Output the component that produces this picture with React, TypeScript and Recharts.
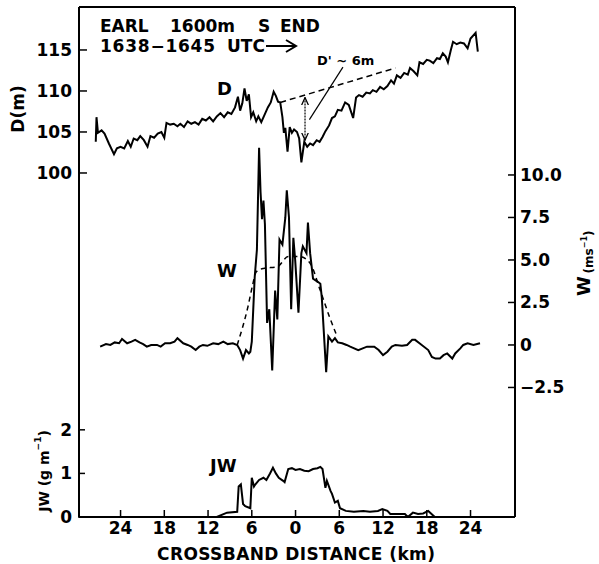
import React from "react"
import { ComposedChart, Line, XAxis, YAxis, ReferenceLine } from "recharts"

const FONT = "DejaVu Sans, Verdana, sans-serif"

// crossband distance (km), negative = left of band centre
const xTicks = [-24, -18, -12, -6, 0, 6, 12, 18, 24]
const dTicks = [100, 105, 110, 115]
const wTicks = [-2.5, 0, 2.5, 5, 7.5, 10]
const jwTicks = [0, 1, 2]

// D trace (m)
const dKm = [
	-27.4, -27.3, -27.1, -26.6, -26.2, -25.6, -24.9, -24.5, -24.0, -23.5, -23.0, -22.6, -22.2, -21.7,
	-21.3, -20.8, -20.3, -19.9, -19.4, -18.9, -18.4, -18.0, -17.7, -17.2, -16.7, -16.2, -15.8, -15.3,
	-14.8, -14.3, -13.8, -13.3, -12.8, -12.3, -11.8, -11.3, -10.8, -10.3, -9.8, -9.3, -8.8, -8.3, -7.9,
	-7.6, -7.3, -7.0, -6.7, -6.4, -6.1, -5.8, -5.4, -5.1, -4.7, -4.3, -3.8, -3.4, -3.0, -2.7, -2.4, -2.1,
	-1.8, -1.6, -1.4, -1.1, -0.8, -0.5, -0.2, 0.2, 0.5, 0.8, 1.2, 1.6, 2.0, 2.4, 2.9, 3.3, 3.7, 4.1, 4.6,
	5.0, 5.4, 5.8, 6.3, 6.8, 7.3, 7.9, 8.3, 8.7, 9.2, 9.7, 10.2, 10.6, 11.1, 11.6, 12.1, 12.6, 13.1, 13.5,
	13.9, 14.4, 14.9, 15.4, 15.7, 16.2, 16.7, 17.0, 17.5, 18.0, 18.4, 18.9, 19.4, 19.8, 20.2, 20.6, 20.9,
	21.3, 21.6, 22.1, 22.6, 23.1, 23.6, 24.0, 24.7, 25.0,
]
const dVal = [
	103.8, 106.8, 104.9, 105.2, 104.8, 103.6, 102.3, 103.0, 103.2, 103.0, 103.9, 103.2, 104.2, 104.0,
	104.5, 104.0, 103.2, 104.5, 104.3, 104.8, 105.0, 104.3, 106.1, 105.9, 106.0, 105.7, 106.0, 105.6,
	106.3, 106.0, 106.2, 105.9, 106.6, 106.4, 106.8, 106.3, 106.9, 107.3, 106.8, 107.4, 107.2, 108.0, 109.3,
	107.6, 108.5, 110.3, 108.8, 109.6, 106.8, 107.4, 106.3, 106.9, 106.2, 107.0, 108.0, 108.6, 109.9, 109.4,
	108.7, 108.6, 106.8, 104.9, 105.5, 102.6, 105.6, 104.9, 105.3, 105.0, 104.2, 101.3, 103.8, 103.2, 103.6,
	103.4, 104.0, 103.8, 104.4, 105.1, 105.8, 106.7, 106.9, 107.7, 107.6, 108.6, 108.3, 106.7, 109.2, 109.5,
	109.3, 109.8, 109.7, 110.1, 109.9, 110.5, 110.2, 110.6, 111.3, 110.9, 111.9, 111.6, 112.2, 112.0, 112.8,
	112.4, 111.9, 113.5, 113.3, 113.8, 113.7, 113.4, 114.0, 113.9, 114.6, 114.2, 113.5, 115.0, 116.0, 115.7,
	115.9, 115.8, 115.2, 116.4, 117.1, 114.8,
]

// W trace (m/s)
const wKm = [
	-26.8, -26.0, -25.4, -24.8, -24.2, -23.8, -23.1, -22.5, -22.0, -21.4, -20.9, -20.4, -19.8, -19.0,
	-18.5, -17.9, -17.2, -16.6, -16.2, -15.4, -14.8, -14.3, -13.7, -13.2, -12.7, -12.1, -11.3, -10.6,
	-9.9, -9.3, -8.6, -8.0, -7.6, -7.2, -6.8, -6.4, -6.2, -6.0, -5.6, -5.3, -5.0, -4.8, -4.6, -4.4, -4.2,
	-3.9, -3.6, -3.2, -2.8, -2.5, -2.2, -1.8, -1.4, -1.2, -0.9, -0.6, -0.3, -0.05, 0.4, 0.8, 1.0, 1.5, 1.7,
	2.0, 2.4, 3.1, 3.4, 3.6, 4.2, 4.5, 5.0, 5.4, 5.8, 6.4, 7.0, 7.5, 8.6, 9.8, 10.8, 11.4, 12.0, 12.6,
	13.2, 13.7, 14.6, 15.3, 16.0, 16.4, 17.0, 18.2, 18.7, 19.2, 19.8, 20.3, 20.8, 21.5, 21.9, 22.6, 23.0,
	23.6, 24.4, 25.3,
]
const wVal = [
	-0.1, 0.05, 0.0, 0.15, 0.1, 0.35, 0.1, 0.2, 0.3, 0.15, 0.05, -0.1, 0.0, 0.0,
	-0.1, 0.1, 0.1, 0.2, 0.4, 0.1, 0.0, -0.1, -0.3, -0.1, 0.0, -0.05, 0.1, 0.05,
	0.2, 0.05, 0.1, 0.0, -0.3, -0.8, -0.3, -0.5, -0.4, 0.2, 4.0, 5.6, 11.6, 9.0, 7.4, 8.5, 7.1,
	1.3, 2.1, -1.5, 3.2, 1.5, 6.2, 5.9, 7.5, 9.1, 7.5, 2.1, 6.3, 5.0, 1.9, 5.4, 5.8, 5.4, 7.2,
	5.4, 3.9, 3.7, 3.6, 2.8, -1.6, 0.5, 0.2, 0.4, 0.15, 0.1, 0.0, -0.1, -0.3, -0.1, -0.1, -0.3, -0.6, -0.4,
	-0.1, 0.0, -0.05, 0.0, 0.3, 0.3, 0.1, -0.3, -0.7, -0.8, -0.8, -0.6, -0.5, -0.8, -0.5, -0.2, 0.0,
	0.1, 0.0, 0.1,
]

// smoothed W (dashed)
const wSmoothKm = [-8.0, -6.5, -5.9, -5.4, -4.4, -2.5, -1.0, 0.6, 2.0, 3.4, 4.7, 5.7]
const wSmoothVal = [0.0, 2.3, 3.5, 4.3, 4.5, 4.6, 5.2, 5.2, 4.8, 3.2, 1.6, 0.5]

// JW trace (g/m)
const jwKm = [
	-10.8, -9.4, -8.0, -7.8, -7.5, -7.2, -6.9, -6.2, -6.0, -5.7, -5.5, -5.0, -4.4, -4.0, -3.5, -3.1, -2.7,
	-2.3, -1.7, -1.5, -1.0, -0.5, 0.0, 0.6, 1.2, 1.8, 2.4, 3.0, 3.4, 3.7, 4.1, 4.3, 4.8, 5.0, 5.4, 5.8,
	6.1, 6.9, 8.0, 9.3, 10.2, 11.3, 11.9, 12.6, 13.0, 15.0, 15.4, 16.1, 16.8, 17.5, 18.2, 19.1,
]
const jwVal = [
	0, 0.1, 0.12, 0.7, 0.75, 0.3, 0.25, 0.2, 0.9, 0.7, 0.75, 0.85, 0.9, 0.85, 1.0, 1.13, 1.0,
	0.9, 0.83, 0.8, 1.1, 1.12, 1.08, 1.1, 1.06, 1.05, 1.1, 1.12, 1.15, 1.1, 0.67, 0.83, 0.6, 0.53, 0.33, 0.37,
	0.2, 0.14, 0.12, 0.14, 0.12, 0.14, 0.18, 0.14, 0.07, 0.07, 0.0, 0.1, 0.07, 0.08, 0.14, 0,
]

const toRows = (xs: number[], vs: number[]) => xs.map((x, i) => ({ x, v: vs[i] }))
const dData = toRows(dKm, dVal)
const wData = toRows(wKm, wVal)
const wSmooth = toRows(wSmoothKm, wSmoothVal)
const jwData = toRows(jwKm, jwVal)

const tickStyle = { fill: "#000", fontSize: 17, fontWeight: "bold", fontFamily: FONT }
const axisLine = { stroke: "#000", strokeWidth: 2 }
const tickLine = { stroke: "#000", strokeWidth: 1.5 }

function fmtW(v: number) {
	if (v === 0) return "0"
	return (v < 0 ? "\u2212" : "") + Math.abs(v).toFixed(1)
}

export default function App() {
	return (
		<div style={{ position: "absolute", left: 0, top: 0, width: 599, height: 564, background: "#fff" }}>
			<svg width={0} height={0} style={{ position: "absolute" }}>
				<defs>
					<marker id="ah" viewBox="0 0 10 10" refX="9" refY="5" markerWidth="7" markerHeight="7" orient="auto-start-reverse">
						<path d="M0,1 L9,5 L0,9" fill="none" stroke="#000" strokeWidth={1.5} />
					</marker>
				</defs>
			</svg>
			<ComposedChart width={599} height={564} margin={{ top: 6, right: 83, bottom: 0, left: 77 }}>
				<XAxis
					xAxisId="b"
					type="number"
					dataKey="x"
					domain={[-29.7, 30.1]}
					allowDataOverflow
					ticks={xTicks}
					tickFormatter={(v) => String(Math.abs(v))}
					tickSize={-7}
					tickMargin={12}
					height={47}
					axisLine={axisLine}
					tickLine={tickLine}
					tick={tickStyle}
				/>
				<XAxis
					xAxisId="t"
					orientation="top"
					type="number"
					dataKey="x"
					domain={[-29.7, 30.1]}
					allowDataOverflow
					tick={false}
					tickLine={false}
					height={1}
					axisLine={axisLine}
				/>
				<YAxis
					yAxisId="jw"
					type="number"
					domain={[0, 11.7]}
					allowDataOverflow
					ticks={jwTicks}
					width={1}
					tickSize={-7}
					tickMargin={13}
					axisLine={false}
					tickLine={tickLine}
					tick={tickStyle}
				/>
				<YAxis
					yAxisId="d"
					type="number"
					domain={[58.05, 120.24]}
					allowDataOverflow
					ticks={dTicks}
					width={1}
					tickSize={-8}
					tickMargin={15}
					axisLine={axisLine}
					tickLine={tickLine}
					tick={tickStyle}
				/>
				<YAxis
					yAxisId="w"
					orientation="right"
					type="number"
					domain={[-10.12, 19.88]}
					allowDataOverflow
					ticks={wTicks}
					tickFormatter={fmtW}
					width={1}
					tickSize={-7}
					tickMargin={12}
					axisLine={axisLine}
					tickLine={tickLine}
					tick={tickStyle}
				/>
				<Line
					xAxisId="b"
					yAxisId="d"
					data={dData}
					dataKey="v"
					type="linear"
					stroke="#000"
					strokeWidth={2}
					dot={false}
					isAnimationActive={false}
				/>
				<Line
					xAxisId="b"
					yAxisId="w"
					data={wData}
					dataKey="v"
					type="linear"
					stroke="#000"
					strokeWidth={2}
					dot={false}
					isAnimationActive={false}
				/>
				<Line
					xAxisId="b"
					yAxisId="w"
					data={wSmooth}
					dataKey="v"
					type="monotone"
					stroke="#000"
					strokeWidth={1.5}
					strokeDasharray="5 4"
					dot={false}
					isAnimationActive={false}
				/>
				<Line
					xAxisId="b"
					yAxisId="jw"
					data={jwData}
					dataKey="v"
					type="linear"
					stroke="#000"
					strokeWidth={2}
					dot={false}
					isAnimationActive={false}
				/>
				{/* undisturbed D trend and the D' depression */}
				<ReferenceLine
					xAxisId="b"
					yAxisId="d"
					segment={[{ x: -2.1, y: 108.6 }, { x: 13.7, y: 112.8 }]}
					stroke="#000"
					strokeWidth={1.5}
					strokeDasharray="6 4"
				/>
				<ReferenceLine
					xAxisId="b"
					yAxisId="d"
					segment={[{ x: 1.3, y: 109.2 }, { x: 1.3, y: 104.0 }]}
					stroke="#000"
					strokeWidth={1.2}
					strokeDasharray="2 1"
					markerStart="url(#ah)"
					markerEnd="url(#ah)"
				/>
				<ReferenceLine
					xAxisId="b"
					yAxisId="d"
					segment={[{ x: 6.5, y: 112.9 }, { x: 1.9, y: 106.5 }]}
					stroke="#000"
					strokeWidth={1.2}
				/>
			</ComposedChart>
			<svg
				width={599}
				height={564}
				style={{ position: "absolute", left: 0, top: 0, pointerEvents: "none" }}
				fontFamily={FONT}
				fontWeight="bold"
				fill="#000"
			>
				<text x={100} y={32} fontSize={17}>EARL</text>
				<text x={170} y={32} fontSize={17}>1600m</text>
				<text x={258} y={32} fontSize={17}>S</text>
				<text x={280} y={32} fontSize={17}>END</text>
				<text x={100} y={52} fontSize={17} textLength={115}>1638{"\u2212"}1645</text>
				<text x={227} y={52} fontSize={17}>UTC</text>
				<line x1={266} y1={46} x2={295} y2={46} stroke="#000" strokeWidth={2} />
				<path d="M286,40 L296,46 L286,52" fill="none" stroke="#000" strokeWidth={2} />
				<text x={217} y={95} fontSize={18}>D</text>
				<text x={217} y={277} fontSize={18}>W</text>
				<text x={210} y={472} fontSize={18}>JW</text>
				<text x={317} y={65} fontSize={13}>D' ~ 6m</text>
				<text x={18} y={109} fontSize={17} textAnchor="middle" dominantBaseline="central" transform="rotate(-90 18 109)">
					D(m)
				</text>
				<text x={44} y={471} fontSize={14} textAnchor="middle" dominantBaseline="central" transform="rotate(-90 44 471)">
					JW (g m<tspan fontSize={9} dy={-6}>{"\u2212"}1</tspan><tspan dy={6}>)</tspan>
				</text>
				<text x={583} y={286} fontSize={18} textAnchor="middle" dominantBaseline="central" transform="rotate(-90 583 286)">
					W
				</text>
				<text x={589} y={252} fontSize={12} textAnchor="middle" dominantBaseline="central" transform="rotate(-90 589 252)">
					(ms<tspan fontSize={8} dy={-5}>{"\u2212"}1</tspan><tspan dy={5}>)</tspan>
				</text>
				<text x={296} y={560} fontSize={17} textAnchor="middle" textLength={278}>
					CROSSBAND DISTANCE (km)
				</text>
			</svg>
		</div>
	)
}
